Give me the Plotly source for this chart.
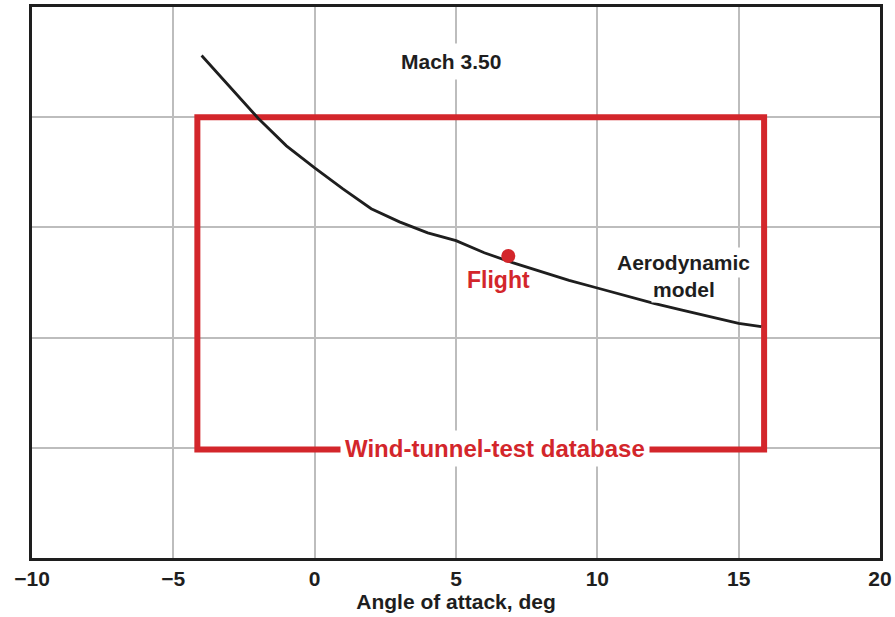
import plotly.graph_objects as go

# Aerodynamic model curve (Mach 3.50)
aoa_deg = [-4, -3, -2, -1, 0, 1, 2, 3, 4, 5, 6, 7, 8, 9, 10, 11, 12, 13, 14, 15, 15.8]
model_val = [4.56, 4.27, 3.99, 3.74, 3.54, 3.35, 3.17, 3.05, 2.95, 2.88, 2.77, 2.68,
             2.60, 2.52, 2.45, 2.38, 2.31, 2.25, 2.19, 2.13, 2.10]

# Flight point
flight_aoa = [6.85]
flight_val = [2.74]

# Wind-tunnel-test database envelope
wt_aoa = [-4.15, 15.9]
wt_val = [0.985, 4.0]

x_ticks = [-10, -5, 0, 5, 10, 15, 20]
y_grid = [0, 1, 2, 3, 4, 5]

RED = "#D3262B"
INK = "#1E1E1E"
FONT = "Liberation Sans, Arial, Helvetica, sans-serif"

fig = go.Figure()
fig.add_trace(go.Scatter(x=aoa_deg, y=model_val, mode="lines",
                         line=dict(color=INK, width=2.8), hoverinfo="skip"))
fig.add_trace(go.Scatter(x=flight_aoa, y=flight_val, mode="markers",
                         marker=dict(color=RED, size=14), hoverinfo="skip"))

fig.add_shape(type="rect", x0=wt_aoa[0], x1=wt_aoa[1], y0=wt_val[0], y1=wt_val[1],
              line=dict(color=RED, width=6), layer="between")

def ann(text, x, y, size, color, bg=None, pad=4):
    fig.add_annotation(text=f"<b>{text}</b>", x=x, y=y, xref="x", yref="y",
                       showarrow=False, font=dict(family=FONT, size=size, color=color),
                       bgcolor=bg if bg else "rgba(0,0,0,0)", borderpad=pad,
                       xanchor="center", yanchor="middle")

ann("Mach 3.50", 4.83, 4.51, 21, INK, "white", 6)
ann("Wind-tunnel-test database", 6.39, 0.99, 24, RED, "white", 4)
ann("Flight", 6.5, 2.52, 23, RED)
ann("Aerodynamic", 13.06, 2.68, 21, INK, "white", 3)
ann("model", 13.08, 2.44, 21, INK, "white", 1)

fig.update_layout(
    width=895, height=617,
    margin=dict(l=32, r=15, t=7, b=59),
    plot_bgcolor="white", paper_bgcolor="white",
    showlegend=False,
    font=dict(family=FONT, color=INK),
)
fig.update_xaxes(range=[-10, 20], tickvals=x_ticks, automargin=False,
                 tickfont=dict(family=FONT, size=21, color=INK, weight="bold"),
                 showgrid=True, gridcolor="#BDBDBD", gridwidth=1.5,
                 showline=True, linecolor=INK, linewidth=3, mirror=True,
                 ticks="", zeroline=False,
                 title=dict(text="<b>Angle of attack, deg</b>",
                            font=dict(family=FONT, size=21, color=INK), standoff=6))
fig.update_yaxes(range=[0, 5], tickvals=y_grid, showticklabels=False, automargin=False,
                 showgrid=True, gridcolor="#BDBDBD", gridwidth=1.5,
                 showline=True, linecolor=INK, linewidth=3, mirror=True,
                 ticks="", zeroline=False)

fig.write_html("out.html")
